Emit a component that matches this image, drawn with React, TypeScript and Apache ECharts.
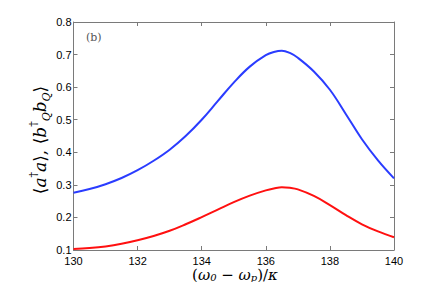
import React, { useEffect, useRef } from "react";
import * as echarts from "echarts";

const xValues = [130, 130.5, 131, 131.5, 132, 132.5, 133, 133.5, 134, 134.5, 135, 135.5, 136, 136.25, 136.5, 136.75, 137, 137.5, 138, 138.5, 139, 139.5, 140];
const blueValues = [0.276, 0.287, 0.302, 0.321, 0.345, 0.374, 0.408, 0.45, 0.5, 0.557, 0.614, 0.663, 0.698, 0.708, 0.712, 0.705, 0.69, 0.648, 0.592, 0.517, 0.44, 0.375, 0.32];
const redValues = [0.103, 0.106, 0.111, 0.119, 0.13, 0.143, 0.159, 0.179, 0.201, 0.224, 0.247, 0.267, 0.283, 0.289, 0.293, 0.291, 0.286, 0.266, 0.238, 0.207, 0.179, 0.157, 0.139];

const xMin = 130, xMax = 140, xStep = 2;
const yMin = 0.1, yMax = 0.8, yStep = 0.1;

export default function App() {
  const ref = useRef<HTMLDivElement>(null);
  useEffect(() => {
    if (!ref.current) return;
    const chart = echarts.init(ref.current, null, { renderer: "svg" });
    const axisColor = "#7a7a7a";
    const tickFont = { color: "#000", fontFamily: "Liberation Sans, Arial", fontSize: 11 };
    const baseX = {
      type: "value", min: xMin, max: xMax, interval: xStep,
      axisLine: { show: true, onZero: false, lineStyle: { color: axisColor, width: 1 } },
      axisTick: { show: true, inside: true, length: 4, lineStyle: { color: axisColor } },
      splitLine: { show: false },
    };
    const baseY = {
      type: "value", min: yMin, max: yMax, interval: yStep,
      axisLine: { show: true, onZero: false, lineStyle: { color: axisColor, width: 1 } },
      axisTick: { show: true, inside: true, length: 4, lineStyle: { color: axisColor } },
      splitLine: { show: false },
    };
    const mk = (vals: number[]) => xValues.map((x, i) => [x, vals[i]]);
    chart.setOption({
      animation: false,
      backgroundColor: "#fff",
      grid: { left: 73.5, right: 42, top: 22, bottom: 32, containLabel: false },
      xAxis: [
        { ...baseX, position: "bottom", axisLabel: { ...tickFont, margin: 5, lineHeight: 11 } },
        { ...baseX, position: "top", axisLabel: { show: false } },
      ],
      yAxis: [
        { ...baseY, position: "left", axisLabel: { ...tickFont, margin: 2, lineHeight: 11 } },
        { ...baseY, position: "right", axisLabel: { show: false } },
      ],
      series: [
        { type: "line", data: mk(blueValues), smooth: 0.4, showSymbol: false, lineStyle: { color: "#2a3cff", width: 2 } },
        { type: "line", data: mk(redValues), smooth: 0.4, showSymbol: false, lineStyle: { color: "#ff1010", width: 2 } },
      ],
      graphic: [
        {
          type: "text", x: 86, y: 37,
          style: { text: "(b)", fontFamily: "DejaVu Serif, serif", fontSize: 11, fill: "#555", align: "left", verticalAlign: "middle" },
        },
        {
          type: "text", x: 235, y: 274.5,
          style: {
            text: "{p|(}{i|ω}{s|0}{p| − }{i|ω}{s|p}{p|)/}{i|κ}",
            align: "center", verticalAlign: "middle",
            rich: {
              p: { fontFamily: "DejaVu Serif, serif", fontSize: 15, fill: "#000", verticalAlign: "bottom", lineHeight: 15 },
              i: { fontFamily: "DejaVu Serif, serif", fontStyle: "italic", fontSize: 15, fill: "#000", verticalAlign: "bottom", lineHeight: 15 },
              s: { fontFamily: "DejaVu Serif, serif", fontStyle: "italic", fontSize: 10, fill: "#000", verticalAlign: "bottom", lineHeight: 10 },
            },
          },
        },
        {
          type: "text", x: 40, y: 140, rotation: Math.PI / 2,
          style: {
            text: "{p|⟨}{i|a}{u|†}{i|a}{p|⟩, ⟨}{i|b}{u|†}{d|Q}{i|b}{d|Q}{p|⟩}",
            align: "center", verticalAlign: "middle",
            rich: {
              p: { fontFamily: "DejaVu Serif, serif", fontSize: 17, fill: "#000", verticalAlign: "middle", lineHeight: 24 },
              i: { fontFamily: "DejaVu Serif, serif", fontStyle: "italic", fontSize: 17, fill: "#000", verticalAlign: "middle", lineHeight: 24 },
              u: { fontFamily: "DejaVu Serif, serif", fontSize: 11, fill: "#000", verticalAlign: "top", lineHeight: 12 },
              d: { fontFamily: "DejaVu Serif, serif", fontStyle: "italic", fontSize: 11, fill: "#000", verticalAlign: "bottom", lineHeight: 12 },
            },
          },
        },
      ],
    });
    return () => chart.dispose();
  }, []);
  return <div ref={ref} style={{ width: 436, height: 282, position: "absolute", left: 0, top: 0 }} />;
}
